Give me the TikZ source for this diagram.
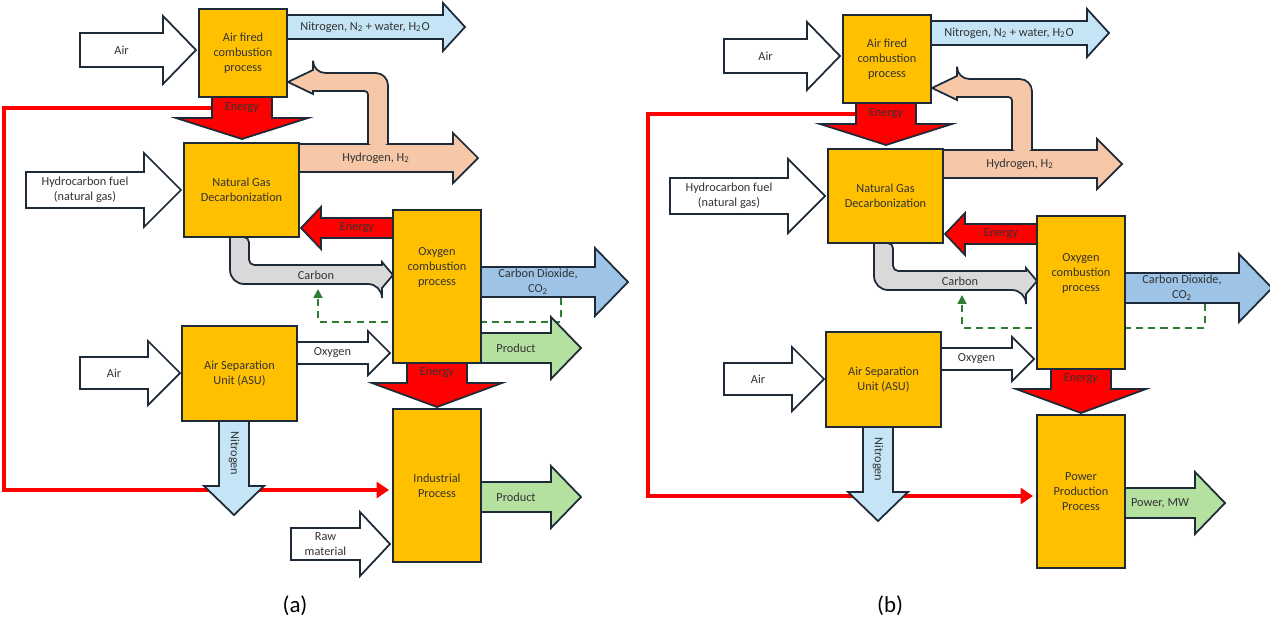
\documentclass[tikz,border=0pt]{standalone}
\usepackage{fontspec}
\setmainfont{Carlito}
\usetikzlibrary{arrows.meta}
\definecolor{boxor}{HTML}{FFC000}
\definecolor{edge}{HTML}{1E2A38}
\definecolor{nblue}{HTML}{C5E4F5}
\definecolor{hpink}{HTML}{F6C8A8}
\definecolor{cgray}{HTML}{D9D9D9}
\definecolor{cblue}{HTML}{9DC3E6}
\definecolor{pgreen}{HTML}{B4E0A0}
\definecolor{dgreen}{HTML}{2E7D32}
\def\u{0.02cm}
\newcommand\harr[8]{%
 \draw[ar,fill=#7] (#1,{#3-#4}) -- ({#2-#6},{#3-#4}) -- ({#2-#6},{#3-#5}) -- (#2,#3) -- ({#2-#6},{#3+#5}) -- ({#2-#6},{#3+#4}) -- (#1,{#3+#4}) -- cycle;
 \node[lab] at ({(#1+#2-#6)/2},#3) {#8};}
\newcommand\varr[9]{%
 \draw[ar,fill=#7] ({#1-#4},#2) -- ({#1-#4},{#3-#6}) -- ({#1-#5},{#3-#6}) -- (#1,#3) -- ({#1+#5},{#3-#6}) -- ({#1+#4},{#3-#6}) -- ({#1+#4},#2) -- cycle;
 \node[lab,#9] at (#1,{(#2+#3-#6)/2}) {#8};}
\newcommand\commonparts{%
 \draw[red,line width=2.8pt,-{Triangle[length=7pt,width=9pt]}] (212,108) -- (4,108) -- (4,490) -- (389,490);
 \harr{80}{196}{50}{17}{34}{33}{white}{Air}
 \harr{287}{465}{27}{12}{24}{22}{nblue}{Nitrogen, N\textsubscript{2} + water, H\textsubscript{2}O}
 \varr{242}{97}{139}{30}{66}{21}{red}{Energy}{}
 \harr{299}{478}{158}{14}{25}{25}{hpink}{Hydrogen, H\textsubscript{2}}
 \fill[hpink] (388,145) [rounded corners=7pt] -- (388,73) -- (313,73) [sharp corners] -- (313,70) -- (288,82) -- (313,94) -- (313,91) [rounded corners=2pt] -- (368,91) -- (368,145) -- cycle;
 \draw[ar] (388,144) [rounded corners=7pt] -- (388,73) -- (313,73) [sharp corners] -- (313,70) -- (288,82) -- (313,94) -- (313,91) [rounded corners=2pt] -- (368,91) -- (368,144);
 \harr{26}{181}{190}{18}{37}{37}{white}{Hydrocarbon fuel\\(natural gas)}
 \harr{393}{301}{228}{10}{21}{-20}{red}{Energy}
 \draw[ar,fill=cgray] (230,237) [rounded corners=8pt] -- (230,284) -- (382,284) [sharp corners] -- (382,288) -- (393,275) -- (382,262) -- (382,265) [rounded corners=3pt] -- (249,265) -- (249,237) [sharp corners] -- cycle;
 \node[lab] at (316,275) {Carbon};
 \harr{481}{628}{282}{15}{34}{33}{cblue}{Carbon Dioxide,\\CO\textsubscript{2}}
 \draw[dashed,dgreen,line width=1pt,dash pattern=on 4pt off 3pt,-{Triangle[length=5pt,width=5pt]}] (561,298) -- (561,322) -- (318,322) -- (318,289);
 \harr{80}{180}{373}{16}{32}{32}{white}{Air}
 \harr{297}{390}{353}{11}{22}{22}{white}{Oxygen}
 \varr{437}{363}{407}{30}{65}{24}{red}{Energy}{}
 \varr{234}{421}{515}{15}{30}{29}{nblue}{Nitrogen}{rotate=-90}
 \node[box,minimum width=88*\u,minimum height=88*\u] (af) at (243,53) {Air fired\\combustion\\process};
 \node[box,minimum width=115*\u,minimum height=94*\u] (ngd) at (241.5,190) {Natural Gas\\Decarbonization};
 \node[box,minimum width=88*\u,minimum height=153*\u] (oc) at (437,286.5) {Oxygen\\combustion\\process\\[14pt]};
 \node[box,minimum width=115*\u,minimum height=95*\u] (asu) at (239.5,373.5) {Air Separation\\Unit (ASU)};
}
\tikzset{
 ar/.style={draw=edge,line width=1pt,line join=miter},
 lab/.style={font=\fontsize{7}{8.5}\selectfont,align=center,text=black!80,inner sep=0pt},
 box/.style={draw=edge,line width=1.1pt,fill=boxor,font=\fontsize{7}{8.5}\selectfont,align=center,text=black!80},
}
\begin{document}
\begin{tikzpicture}[x=0.02cm,y=-0.02cm]
\useasboundingbox (0,0) rectangle (1270,639);
\begin{scope}
 \commonparts
 \harr{481}{581}{348}{15}{31}{30}{pgreen}{Product}
 \harr{481}{581}{497}{15}{31}{30}{pgreen}{Product}
 \harr{291}{390}{544}{16}{32}{30}{white}{Raw\\material}
 \node[box,minimum width=88*\u,minimum height=153*\u] (ind) at (437,485.5) {Industrial\\Process};
 \node[font=\fontsize{13}{15}\selectfont] (la) at (295,606) {(a)};
\end{scope}
\begin{scope}[shift={(644,6)}]
 \commonparts
 \harr{481}{581}{497}{15}{31}{30}{pgreen}{Power, MW}
 \node[box,minimum width=88*\u,minimum height=153*\u] (pp) at (437,485.5) {Power\\Production\\Process};
\end{scope}
\node[font=\fontsize{13}{15}\selectfont] (lb) at (890,606) {(b)};
\end{tikzpicture}
\end{document}
